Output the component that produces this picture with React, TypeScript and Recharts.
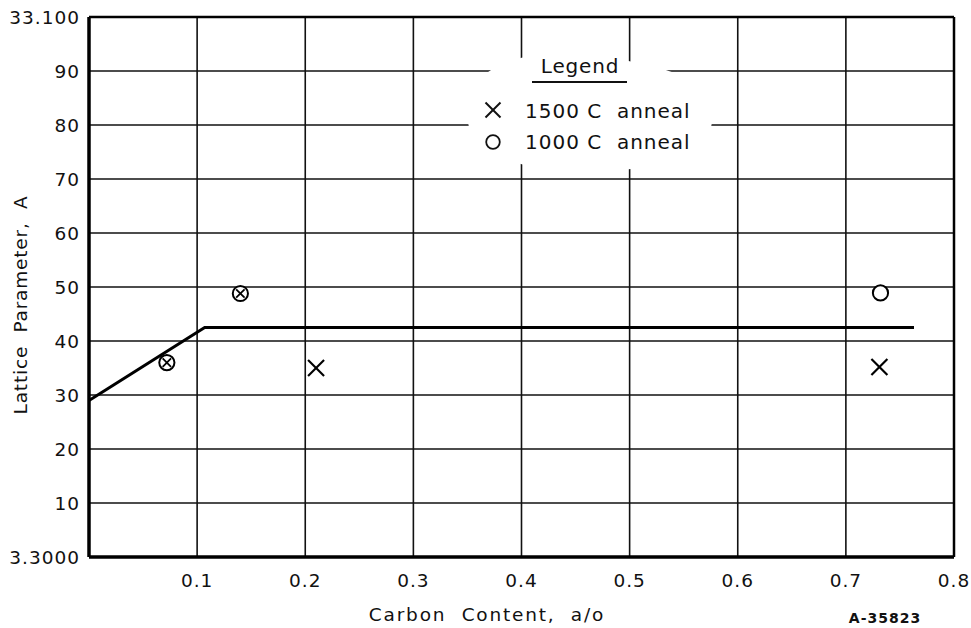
import React from 'react';
import {
  ScatterChart,
  Scatter,
  XAxis,
  YAxis,
  CartesianGrid,
  Legend,
  ReferenceLine,
  Label,
} from 'recharts';

// ---- axis ticks ----
const xTicks = [0, 0.1, 0.2, 0.3, 0.4, 0.5, 0.6, 0.7, 0.8];
const xTickLabels = ['', '0.1', '0.2', '0.3', '0.4', '0.5', '0.6', '0.7', '0.8'];
const yTicks = [3.3, 3.301, 3.302, 3.303, 3.304, 3.305, 3.306, 3.307, 3.308, 3.309, 3.31];
const yTickLabels = ['3.3000', '10', '20', '30', '40', '50', '60', '70', '80', '90', '33.100'];

// ---- series: 1500 C anneal (x marks) ----
const anneal1500X = [0.072, 0.14, 0.21, 0.731];
const anneal1500Y = [3.3036, 3.30488, 3.3035, 3.30352];

// ---- series: 1000 C anneal (circles) ----
const anneal1000X = [0.072, 0.14, 0.732];
const anneal1000Y = [3.3036, 3.30488, 3.30489];

// ---- fitted curve ----
const curveX = [0, 0.107, 0.763];
const curveY = [3.3029, 3.30425, 3.30425];

const FONT = '"DejaVu Sans", sans-serif';

const data1500 = anneal1500X.map((x, i) => ({ x, y: anneal1500Y[i], both: anneal1000X.includes(x) }));
const data1000 = anneal1000X.map((x, i) => ({ x, y: anneal1000Y[i] }));
const curveData = curveX.map((x, i) => ({ x, y: curveY[i] }));

const CrossShape = (props: any) => {
  const { cx, cy, payload } = props;
  const h = payload && payload.both ? 4.2 : 8;
  const sw = payload && payload.both ? 1.8 : 2.2;
  return (
    <g>
      <line x1={cx - h} y1={cy - h} x2={cx + h} y2={cy + h} stroke="#000" strokeWidth={sw} />
      <line x1={cx - h} y1={cy + h} x2={cx + h} y2={cy - h} stroke="#000" strokeWidth={sw} />
    </g>
  );
};

const CircleShape = (props: any) => {
  const { cx, cy } = props;
  return <circle cx={cx} cy={cy} r={7.6} fill="#fff" stroke="#000" strokeWidth={2} />;
};

const NoShape = () => <g />;

const XTick = (props: any) => {
  const { x, y, payload } = props;
  const idx = xTicks.indexOf(payload.value);
  const label = idx >= 0 ? xTickLabels[idx] : '';
  return (
    <text x={x} y={y + 30} textAnchor="middle" fontFamily={FONT} fontSize={18.5} letterSpacing={1} fill="#111">
      {label}
    </text>
  );
};

const YTick = (props: any) => {
  const { x, y, payload } = props;
  const idx = yTicks.findIndex((t) => Math.abs(t - payload.value) < 1e-9);
  const label = idx >= 0 ? yTickLabels[idx] : '';
  return (
    <text x={x - 9} y={y + 7} textAnchor="end" fontFamily={FONT} fontSize={18.5} letterSpacing={1} fill="#111">
      {label}
    </text>
  );
};

const LegendContent = () => (
  <svg width={244} height={115} style={{ overflow: 'visible', display: 'block' }}>
    <text x={112} y={18} textAnchor="middle" fontFamily={FONT} fontSize={20} fill="#111" letterSpacing={0.8}>
      Legend
    </text>
    <line x1={64} y1={27} x2={159} y2={27} stroke="#111" strokeWidth={2} />
    <line x1={17.5} y1={47.5} x2={32.5} y2={62.5} stroke="#111" strokeWidth={2} />
    <line x1={17.5} y1={62.5} x2={32.5} y2={47.5} stroke="#111" strokeWidth={2} />
    <text x={57} y={63} fontFamily={FONT} fontSize={20} fill="#111" letterSpacing={1} style={{ whiteSpace: 'pre' }}>
      {'1500 C  anneal'}
    </text>
    <circle cx={25} cy={87} r={6.8} fill="none" stroke="#111" strokeWidth={1.8} />
    <text x={57} y={94} fontFamily={FONT} fontSize={20} fill="#111" letterSpacing={1} style={{ whiteSpace: 'pre' }}>
      {'1000 C  anneal'}
    </text>
  </svg>
);

const XLabelContent = () => (
  <g>
    <text x={487} y={621} textAnchor="middle" fontFamily={FONT} fontSize={18.5} letterSpacing={1.8} fill="#111" style={{ whiteSpace: 'pre' }}>
      {'Carbon  Content,  a/o'}
    </text>
    <text x={885} y={623} textAnchor="middle" fontFamily={FONT} fontSize={14} fontWeight="bold" letterSpacing={1} fill="#111">
      A-35823
    </text>
  </g>
);

const YLabelContent = () => (
  <text
    x={27}
    y={305}
    transform="rotate(-90, 27, 305)"
    textAnchor="middle"
    fontFamily={FONT}
    fontSize={18.5}
    letterSpacing={0.8}
    fill="#111"
    style={{ whiteSpace: 'pre' }}
  >
    {'Lattice  Parameter,  A'}
  </text>
);

export default function App() {
  return (
    <div style={{ position: 'absolute', left: 0, top: 0, background: '#fff' }}>
      <ScatterChart width={971} height={628} margin={{ top: 17, right: 17, bottom: 0, left: 0 }} style={{ fontFamily: FONT }}>
        <CartesianGrid stroke="#111" strokeWidth={1.6} strokeOpacity={1} />
        <XAxis
          type="number"
          dataKey="x"
          domain={[0, 0.8]}
          ticks={xTicks}
          allowDataOverflow
          height={71}
          tickSize={0}
          tickMargin={0}
          tickLine={false}
          axisLine={{ stroke: '#000', strokeWidth: 3.5 }}
          tick={<XTick />}
          interval={0}
        >
          <Label content={<XLabelContent />} />
        </XAxis>
        <YAxis
          type="number"
          dataKey="y"
          domain={[3.3, 3.31]}
          ticks={yTicks}
          allowDataOverflow
          width={89}
          tickSize={0}
          tickMargin={0}
          tickLine={false}
          axisLine={{ stroke: '#000', strokeWidth: 3.5 }}
          tick={<YTick />}
          interval={0}
        >
          <Label content={<YLabelContent />} />
        </YAxis>
        <ReferenceLine y={3.31} stroke="#000" strokeWidth={2.5} />
        <ReferenceLine x={0.8} stroke="#000" strokeWidth={2.5} />
        <Legend
          layout="horizontal"
          align="center"
          verticalAlign="middle"
          content={<LegendContent />}
          wrapperStyle={{
            left: 468,
            top: 55,
            width: 244,
            height: 115,
            background: '#fff',
            borderRadius: '80px 160px 100px 100px / 50px 50px 50px 50px',
          }}
        />
        <Scatter
          name="curve"
          data={curveData}
          line={{ stroke: '#000', strokeWidth: 3 }}
          shape={<NoShape />}
          legendType="none"
          isAnimationActive={false}
        />
        <Scatter name="1000 C anneal" data={data1000} shape={<CircleShape />} isAnimationActive={false} />
        <Scatter name="1500 C anneal" data={data1500} shape={<CrossShape />} isAnimationActive={false} />
      </ScatterChart>
    </div>
  );
}
